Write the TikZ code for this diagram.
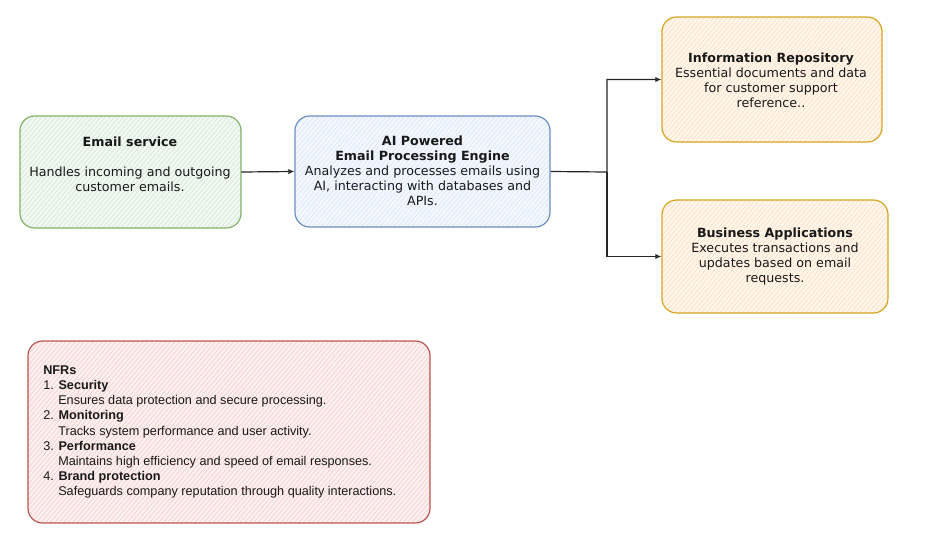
\documentclass[tikz,border=0pt]{standalone}
\usepackage{fontspec}
\setmainfont{Liberation Sans}
\newfontfamily\verd{DejaVu Sans}
\usetikzlibrary{arrows.meta,patterns.meta}
\definecolor{gstroke}{HTML}{82B366}
\definecolor{gfill}{HTML}{D5E8D4}
\definecolor{bstroke}{HTML}{6C8EBF}
\definecolor{bfill}{HTML}{DAE8FC}
\definecolor{ostroke}{HTML}{D6A520}
\definecolor{ofill}{HTML}{FFE0C0}
\definecolor{rstroke}{HTML}{B85450}
\definecolor{rfill}{HTML}{F8CECC}
\tikzset{
  box/.style={draw=#1stroke, line width=0.9pt, rounded corners=11pt, inner sep=0pt,
    preaction={fill=#1fill!30},
    pattern={Lines[angle=50,distance=2.6pt,line width=0.5pt]}, pattern color=#1fill},
  vtext/.style={font=\verd\fontsize{9.5}{11.25}\selectfont, align=center, inner sep=0pt, text=black!90},
  conn/.style={draw=black!85, line width=0.9pt, -{Latex[open,length=4.5pt,width=4pt]}},
}
\begin{document}
\begin{tikzpicture}[x=0.75pt,y=-0.75pt]
\useasboundingbox (0,0) rectangle (928,550);
% boxes
\node[box=g, minimum width=221*0.75pt, minimum height=112*0.75pt] (email) at (130.5,172) {};
\node[box=b, minimum width=255*0.75pt, minimum height=111*0.75pt] (ai) at (422.5,171.5) {};
\node[box=o, minimum width=220*0.75pt, minimum height=125*0.75pt] (info) at (772,79.5) {};
\node[box=o, minimum width=226*0.75pt, minimum height=113*0.75pt] (biz) at (775,256.5) {};
\node[box=r, minimum width=402*0.75pt, minimum height=182*0.75pt] (nfr) at (229,432) {};
% texts
\node[vtext] (emailtxt) at (130,164) {\textbf{Email service}\\[11.25pt]Handles incoming and outgoing\\customer emails.};
\node[vtext] (aitxt) at (422.5,171) {\textbf{AI Powered}\\\textbf{Email Processing Engine}\\Analyzes and processes emails using\\AI, interacting with databases and\\APIs.};
\node[vtext] (infotxt) at (771,80) {\textbf{Information Repository}\\Essential documents and data\\for customer support\\reference..};
\node[vtext] (biztxt) at (775,257) {\textbf{Business Applications}\\Executes transactions and\\updates based on email\\requests.};
\node[font=\fontsize{9.5}{11.4}\selectfont, align=left, inner sep=0pt, anchor=west, text=black!90] (nfrtxt) at (43,432) {%
\textbf{NFRs}\\
1. \textbf{Security}\\
\hspace*{11.25pt}Ensures data protection and secure processing.\\
2. \textbf{Monitoring}\\
\hspace*{11.25pt}Tracks system performance and user activity.\\
3. \textbf{Performance}\\
\hspace*{11.25pt}Maintains high efficiency and speed of email responses.\\
4. \textbf{Brand protection}\\
\hspace*{11.25pt}Safeguards company reputation through quality interactions.};
% connectors
\coordinate (split) at (607,172);
\draw[conn] (email.east) -- (ai.west);
\draw[conn] (ai.east) -- (split) |- (info.west);
\draw[conn] (split) |- (biz.west);
\end{tikzpicture}
\end{document}
